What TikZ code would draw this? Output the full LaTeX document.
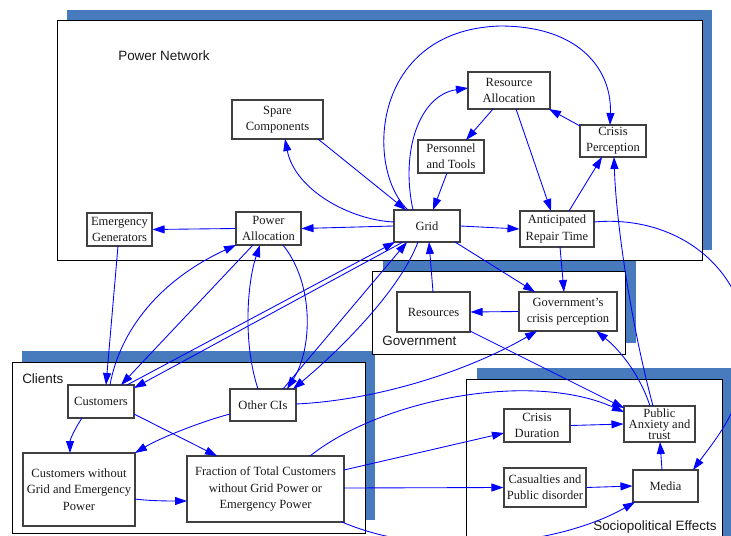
\documentclass[tikz,border=0pt]{standalone}
\usepackage{fontspec}
\setmainfont{Liberation Serif}
\newfontfamily\labelfont{Liberation Sans}
\usetikzlibrary{arrows.meta,calc}
\definecolor{shadowblue}{RGB}{72,122,190}
\definecolor{edgeblue}{RGB}{0,0,255}
\tikzset{
  box/.style 2 args={draw=black!75, line width=0.8pt, fill=white, align=center, inner sep=0pt,
    minimum width=#1*0.75pt, minimum height=#2*0.75pt,
    font=\fontsize{9.4}{12.2}\selectfont, text=black!90},
  link/.style={draw=edgeblue, line width=0.65pt, -{Triangle[length=9pt,width=6pt]}},
  framebox/.style={draw=black, line width=0.75pt, fill=white},
  shadowfill/.style={fill=shadowblue},
  lbl/.style={font=\labelfont\fontsize{10.1}{12}\selectfont, inner sep=0pt, anchor=west, text=black!90},
}
\begin{document}
\begin{tikzpicture}[x=0.75pt,y=-0.75pt]
\path[use as bounding box,clip] (0,0) rectangle (731,535);
% shadows
\fill[shadowfill] (67,10) rectangle (712,250);
\fill[shadowfill] (383,260) rectangle (636,343);
\fill[shadowfill] (22,351) rectangle (375,520);
\fill[shadowfill] (477,368) rectangle (740,545);
% frames
\draw[framebox] (57,21) rectangle (702,260);
\draw[framebox] (372,271) rectangle (625,354);
\draw[framebox] (12,362) rectangle (365,533);
\draw[framebox] (466,379) rectangle (722,545);
% frame labels
\node[lbl] (lpn) at (118,56) {Power Network};
\node[lbl] (lgov) at (382,341) {Government};
\node[lbl] (lcli) at (22,379) {Clients};
\node[lbl] (lsoc) at (593,527) {Sociopolitical Effects};
% nodes
\node[box={91}{39}] (sc) at (277.5,119.5) {Spare\\Components};
\node[box={65}{33}] (eg) at (119.5,229.5) {Emergency\\Generators};
\node[box={65}{33}] (pa) at (268.5,228.5) {Power\\Allocation};
\node[box={82}{37}] (ra) at (509,90.5) {Resource\\Allocation};
\node[box={66}{33}] (pt) at (451,156.5) {Personnel\\and Tools};
\node[box={66}{32}] (cp) at (613,141) {Crisis\\Perception};
\node[box={66}{32}] (grid) at (427,226) {Grid};
\node[box={74}{36}] (art) at (557,229) {Anticipated\\Repair Time};
\node[box={73}{40}] (res) at (433.5,312) {Resources};
\node[box={98}{39}] (gcp) at (568,311.5) {Government's\\crisis perception};
\node[box={71}{36}, font=\fontsize{9.4}{8.2}\selectfont] (pat) at (659.5,424) {Public\\Anxiety and\\trust};
\node[box={66}{33}] (cd) at (537,425.5) {Crisis\\Duration};
\node[box={82}{39}] (cas) at (545,487.5) {Casualties and\\Public disorder};
\node[box={65}{32}] (media) at (665.5,486) {Media};
\node[box={66}{33}] (cust) at (101,401.5) {Customers};
\node[box={66}{32}] (oci) at (263,405) {Other CIs};
\node[box={112}{73}] (cwg) at (79,489.5) {Customers without\\Grid and Emergency\\Power};
\node[box={157}{66}] (frac) at (265.5,489) {Fraction of Total Customers\\without Grid Power or\\Emergency Power};
% edges
\draw[link] (pa.west) -- (eg.east);
\draw[link] (grid.west) -- (pa.east);
\draw[link] ($(sc)+(40.5,19.5)$) -- ($(grid)+(-21,-16)$);
\draw[link] ($(grid)+(-33,-4)$) .. controls (350,220) and (295,190) .. ($(sc)+(7.5,19.5)$);
\draw[link] ($(grid)+(-14,-16)$) .. controls (400,150) and (420,95) .. ($(ra)+(-41,-2.5)$);
\draw[link] ($(grid)+(-19,-16)$) .. controls (365,170) and (370,30) .. (500,26) .. controls (580,26) and (612,70) .. ($(cp)+(-3,-16)$);
\draw[link] ($(pt)+(-4,16.5)$) -- ($(grid)+(6,-16)$);
\draw[link] ($(ra)+(-16,18.5)$) -- ($(pt)+(15,-16.5)$);
\draw[link] ($(cp)+(-33,-15)$) -- ($(ra)+(40,18.5)$);
\draw[link] ($(ra)+(7,18.5)$) -- ($(art)+(-6,-18)$);
\draw[link] ($(art)+(12,-18)$) -- ($(cp)+(-11,16)$);
\draw[link] (grid.east) -- (art.west);
\draw[link] ($(art)+(37,-7)$) .. controls (670,215) and (740,260) .. (748,340) .. controls (750,400) and (715,440) .. ($(media)+(27.5,-16)$);
\draw[link] ($(pat)+(-6.5,-18)$) .. controls (630,320) and (616,220) .. ($(cp)+(1,16)$);
\draw[link] ($(pat)+(-9.5,-18)$) .. controls (640,375) and (620,350) .. ($(gcp)+(28,19.5)$);
\draw[link] ($(art)+(3,18)$) -- ($(gcp)+(-4,-19.5)$);
\draw[link] ($(grid)+(28,16)$) -- ($(gcp)+(-33,-19.5)$);
\draw[link] ($(res)+(-0.5,-20)$) -- ($(grid)+(2,16)$);
\draw[link] (gcp.west) -- (res.east);
\draw[link] ($(res)+(36.5,19)$) -- ($(pat)+(-35.5,-16)$);
\draw[link] ($(oci)+(33,-1)$) .. controls (380,400) and (470,370) .. ($(gcp)+(-31,19.5)$);
\draw[link] ($(frac)+(44.5,-33)$) .. controls (380,400) and (530,370) .. ($(pat)+(-35.5,-12)$);
\draw[link] (cd.east) -- (pat.west);
\draw[link] ($(frac)+(78.5,-19)$) -- ($(cd)+(-33,7.5)$);
\draw[link] ($(frac)+(78.5,-1)$) -- (cas.west);
\draw[link] (cas.east) -- (media.west);
\draw[link] ($(media)+(-3.5,-16)$) -- ($(pat)+(0.5,18)$);
\draw[link] ($(frac)+(76.5,33)$) .. controls (430,560) and (560,545) .. ($(media)+(-30.5,16)$);
\draw[link] ($(eg)+(-1.5,16.5)$) -- ($(cust)+(5,-16.5)$);
\draw[link] ($(cust)+(9,-16.5)$) .. controls (120,330) and (160,280) .. ($(pa)+(-32.5,16.5)$);
\draw[link] ($(pa)+(-15.5,16.5)$) -- ($(cust)+(20,-16.5)$);
\draw[link] ($(grid)+(-24,16)$) -- ($(cust)+(33,-13.5)$);
\draw[link] ($(cust)+(26,-16.5)$) -- ($(grid)+(-32,16)$);
\draw[link] ($(oci)+(-5,-16)$) .. controls (242,340) and (248,280) .. ($(pa)+(-8.5,16.5)$);
\draw[link] ($(pa)+(14.5,16.5)$) .. controls (315,285) and (312,350) .. ($(oci)+(24,-16)$);
\draw[link] ($(oci)+(20,-16)$) -- ($(grid)+(-20,16)$);
\draw[link] ($(grid)+(-9,16)$) .. controls (400,290) and (340,350) .. ($(oci)+(30,-16)$);
\draw[link] ($(cust)+(-19,16.5)$) .. controls (74,430) and (70,440) .. ($(cwg)+(-9,-36.5)$);
\draw[link] ($(cust)+(33,12.5)$) -- ($(frac)+(-48.5,-33)$);
\draw[link] ($(oci)+(-33,9)$) .. controls (200,422) and (160,438) .. ($(cwg)+(56,-36.5)$);
\draw[link] ($(cwg)+(56,9.5)$) .. controls (150,501) and (170,501) .. ($(frac)+(-78.5,12)$);
\end{tikzpicture}
\end{document}
